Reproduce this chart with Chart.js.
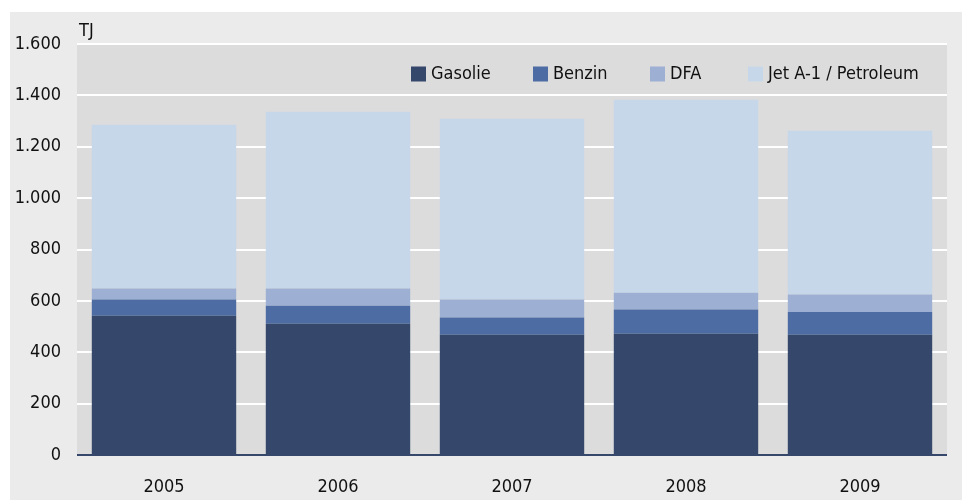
<!DOCTYPE html>
<html>
<head>
<meta charset="utf-8">
<script src="https://cdn.jsdelivr.net/npm/chart.js@4"></script>
<style>
  html, body { margin: 0; padding: 0; background: #fff; }
  #wrap { width: 962px; height: 500px; }
</style>
</head>
<body>
<div id="wrap"><canvas id="chart" width="962" height="500"></canvas></div>
<script>
const years = ['2005', '2006', '2007', '2008', '2009'];
const gasolie = [542, 511, 468, 472, 468];
const benzin = [63, 70, 67, 94, 89];
const dfa = [43, 67, 70, 66, 68];
const jet = [638, 688, 704, 751, 637];
const yTicks = [0, 200, 400, 600, 800, 1000, 1200, 1400, 1600];

const FONT = "'DejaVu Sans Condensed', 'Open Sans', sans-serif";

function fmt(v) {
  return String(v).replace(/\B(?=(\d{3})+(?!\d))/g, '.');
}

// background + plot area fill
const bgPlugin = {
  id: 'bg',
  beforeDraw(chart) {
    const c = chart.ctx, a = chart.chartArea;
    c.save();
    c.fillStyle = '#ebebeb';
    c.fillRect(10, 12, chart.width - 10, chart.height - 12);
    c.fillStyle = '#dcdcdc';
    c.fillRect(a.left, a.top, a.right - a.left, a.bottom - a.top);
    c.restore();
  }
};

// unit label and legend inside the plot
const legendX = [411, 533, 650, 748];
const legendPlugin = {
  id: 'inLegend',
  afterDraw(chart) {
    const c = chart.ctx;
    c.save();
    c.font = '18px ' + FONT;
    c.fillStyle = '#111';
    c.textBaseline = 'middle';
    c.fillText('TJ', 79, 31);

    const box = 15, y = 74;
    chart.data.datasets.forEach((d, i) => {
      const x = legendX[i];
      c.fillStyle = d.backgroundColor;
      c.fillRect(x, y - box / 2, box, box);
      c.fillStyle = '#111';
      c.fillText(d.label, x + box + 5, y);
    });
    c.restore();
  }
};

new Chart(document.getElementById('chart'), {
  type: 'bar',
  data: {
    labels: years,
    datasets: [
      { label: 'Gasolie', data: gasolie, backgroundColor: '#35486c' },
      { label: 'Benzin', data: benzin, backgroundColor: '#4d6ca3' },
      { label: 'DFA', data: dfa, backgroundColor: '#9db0d4' },
      { label: 'Jet A-1 / Petroleum', data: jet, backgroundColor: '#c7d7ea' }
    ]
  },
  options: {
    responsive: false,
    animation: false,
    layout: { padding: { left: 0, right: 15, top: 44, bottom: 0 } },
    datasets: { bar: { barPercentage: 0.83, categoryPercentage: 1, borderWidth: 0 } },
    plugins: {
      legend: { display: false },
      tooltip: { enabled: false }
    },
    scales: {
      x: {
        stacked: true,
        grid: { display: false, drawTicks: false },
        border: { display: false },
        ticks: { color: '#111', font: { family: FONT, size: 18 }, padding: 22 },
        afterFit(s) { s.height = 45; }
      },
      y: {
        stacked: true,
        min: 0,
        max: 1600,
        afterBuildTicks(s) { s.ticks = yTicks.map(v => ({ value: v })); },
        grid: {
          drawTicks: false,
          lineWidth: 2,
          color: ctx => (ctx.tick && ctx.tick.value === 0) ? '#35486c' : '#ffffff'
        },
        border: { display: false },
        ticks: {
          color: '#111',
          font: { family: FONT, size: 18 },
          padding: 16,
          callback: v => fmt(v)
        },
        afterFit(s) { s.width = 77; }
      }
    }
  },
  plugins: [bgPlugin, legendPlugin]
});
</script>
</body>
</html>
